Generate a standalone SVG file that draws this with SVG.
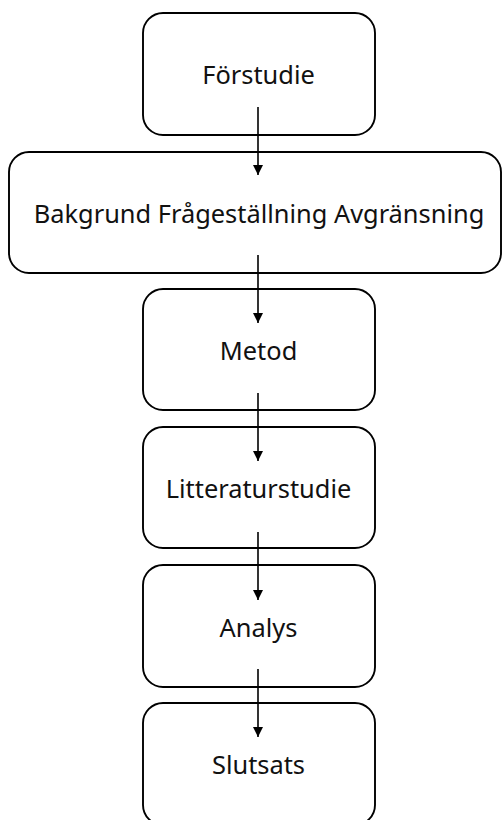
<svg xmlns="http://www.w3.org/2000/svg" width="502" height="820" viewBox="0 0 502 820">
<style>
.box{fill:#fff;stroke:#000;stroke-width:1.9}
.lbl{font-family:"Noto Sans","Open Sans",sans-serif;font-size:25.4px;fill:#111;text-anchor:middle}
.con{stroke:#000;stroke-width:1.6;fill:none;marker-end:url(#ah)}
</style>
<defs>
<marker id="ah" viewBox="0 0 10 10" refX="10" refY="5" markerUnits="userSpaceOnUse" markerWidth="10" markerHeight="10" orient="auto">
<path d="M0,0 L10,5 L0,10 z" fill="#000"/>
</marker>
</defs>
<rect width="502" height="820" fill="#fff"/>
<g id="n1"><rect class="box" x="143" y="13" width="232" height="122" rx="20"/><text class="lbl" x="258.5" y="84">Förstudie</text></g>
<g id="n2"><rect class="box" x="9" y="152" width="492" height="121" rx="20"/><text class="lbl" x="259" y="223">Bakgrund Frågeställning Avgränsning</text></g>
<g id="n3"><rect class="box" x="143" y="289" width="232" height="121" rx="20"/><text class="lbl" x="258.5" y="360">Metod</text></g>
<g id="n4"><rect class="box" x="143" y="427" width="232" height="121" rx="20"/><text class="lbl" x="258.5" y="498">Litteraturstudie</text></g>
<g id="n5"><rect class="box" x="143" y="565" width="232" height="122" rx="20"/><text class="lbl" x="258.5" y="637">Analys</text></g>
<g id="n6"><rect class="box" x="143" y="703" width="232" height="122" rx="20"/><text class="lbl" x="258.5" y="774">Slutsats</text></g>
<g id="connectors">
<line class="con" x1="258" y1="107" x2="258" y2="175"/>
<line class="con" x1="258" y1="255" x2="258" y2="323"/>
<line class="con" x1="258" y1="393" x2="258" y2="461"/>
<line class="con" x1="258" y1="532" x2="258" y2="600"/>
<line class="con" x1="258" y1="669" x2="258" y2="737"/>
</g>
</svg>
